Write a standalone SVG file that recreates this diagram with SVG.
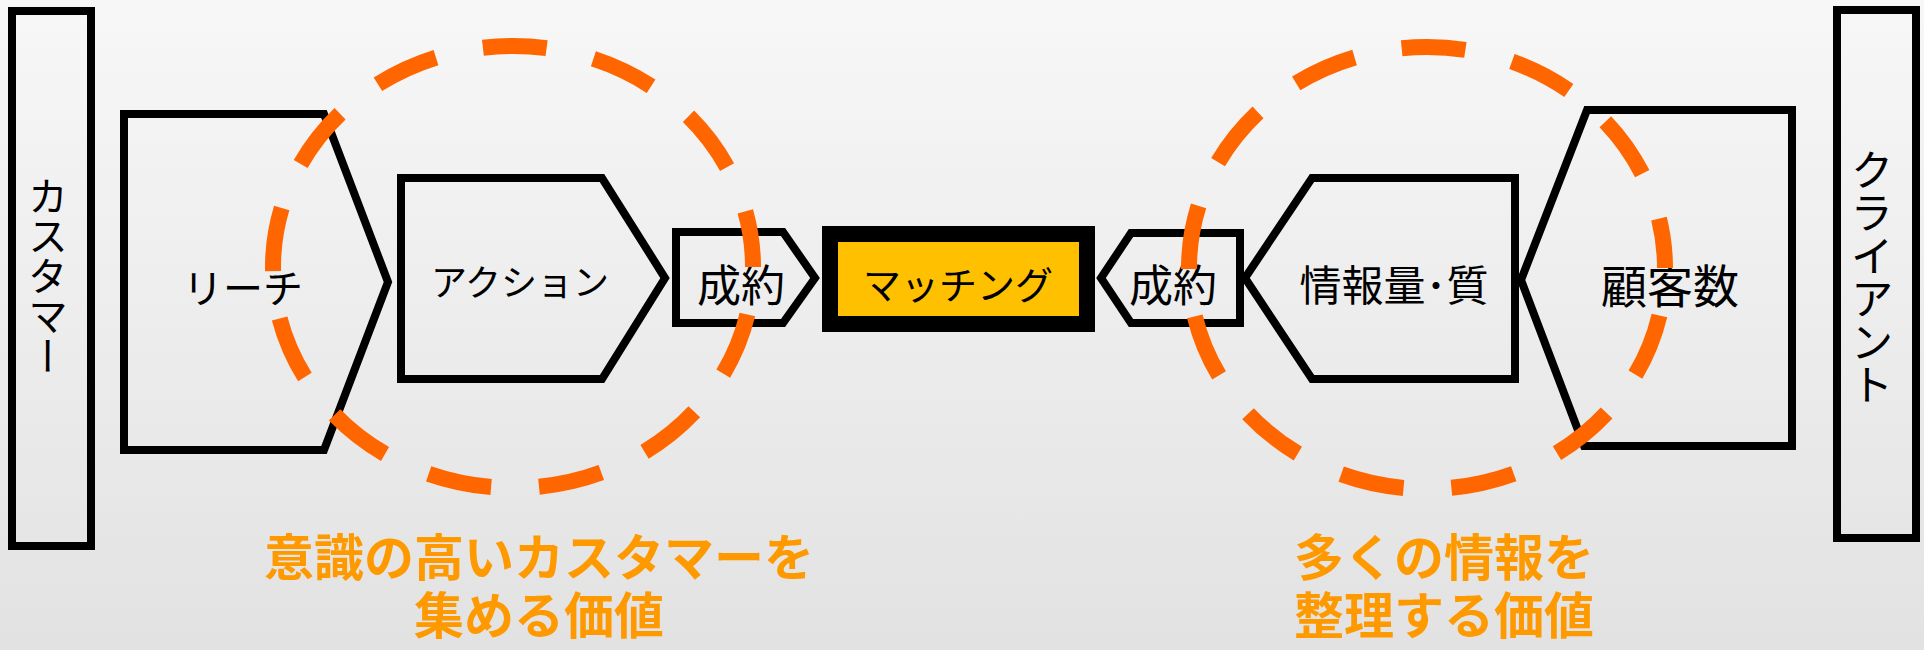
<svg xmlns="http://www.w3.org/2000/svg" width="1924" height="650" viewBox="0 0 1924 650">
<defs>
<linearGradient id="bg" x1="0" y1="0" x2="0" y2="1">
<stop offset="0" stop-color="#f7f7f7"/>
<stop offset="1" stop-color="#e2e2e2"/>
</linearGradient>
<style>
.shape{fill:none;stroke:#000;stroke-width:8;stroke-linejoin:miter}
.lbl{font-family:"Noto Sans CJK JP","Noto Sans CJK SC",sans-serif;fill:#000;text-anchor:middle;dominant-baseline:central}
.vert{writing-mode:vertical-rl}
.ring{fill:none;stroke:#FF6600;stroke-width:16;stroke-dasharray:64 48;stroke-dashoffset:64;stroke-linecap:butt}
.value{font-family:"Noto Sans CJK JP","Noto Sans CJK SC",sans-serif;font-weight:700;fill:#FF9900;font-size:50px;text-anchor:middle}
</style>
</defs>
<rect x="0" y="0" width="1924" height="650" fill="url(#bg)"/>

<g id="customer">
<rect class="shape" x="12" y="11" width="79" height="535"/>
<text class="lbl vert" x="48" y="276" font-size="40">カスタマー</text>
</g>

<g id="client">
<rect class="shape" x="1837" y="10" width="79" height="528"/>
<text class="lbl vert" x="1872" y="277" font-size="43">クライアント</text>
</g>

<g id="reach">
<polygon class="shape" points="124,114 324,114 388,282 324,450 124,450"/>
<text class="lbl" x="243" y="286" font-size="40">リーチ</text>
</g>

<g id="action">
<polygon class="shape" points="401,178 602,178 665,278 602,379 401,379"/>
<text class="lbl" x="520" y="280" font-size="36">アクション</text>
</g>

<g id="contract-left">
<polygon class="shape" points="676,232 783,232 815,278 783,323 676,323"/>
<text class="lbl" x="741" y="283" font-size="44">成約</text>
</g>

<g id="matching">
<rect x="830" y="234" width="257" height="90" fill="#FFC000" stroke="#000" stroke-width="16"/>
<text class="lbl" x="958" y="282" font-size="38">マッチング</text>
</g>

<g id="contract-right">
<polygon class="shape" points="1101,278 1131,233 1240,233 1240,323 1131,323"/>
<text class="lbl" x="1173" y="283" font-size="44">成約</text>
</g>

<g id="info">
<polygon class="shape" points="1245,278 1312,178 1515,178 1515,379 1312,379"/>
<text class="lbl" x="1394" y="282" font-size="42">情報量･質</text>
</g>

<g id="customers-count">
<polygon class="shape" points="1521,280 1587,110 1792,110 1792,446 1584,446"/>
<text class="lbl" x="1670" y="283" font-size="46">顧客数</text>
</g>

<g id="connectors">
<ellipse class="ring" cx="513" cy="267" rx="240" ry="221"/>
<ellipse class="ring" cx="1427" cy="268" rx="238" ry="221"/>
</g>

<g id="value-left">
<text class="value" x="539" y="576"><tspan x="539" y="576">意識の高いカスタマーを</tspan><tspan x="539" y="634">集める価値</tspan></text>
</g>

<g id="value-right">
<text class="value" x="1444" y="576"><tspan x="1444" y="576">多くの情報を</tspan><tspan x="1444" y="634">整理する価値</tspan></text>
</g>
</svg>
